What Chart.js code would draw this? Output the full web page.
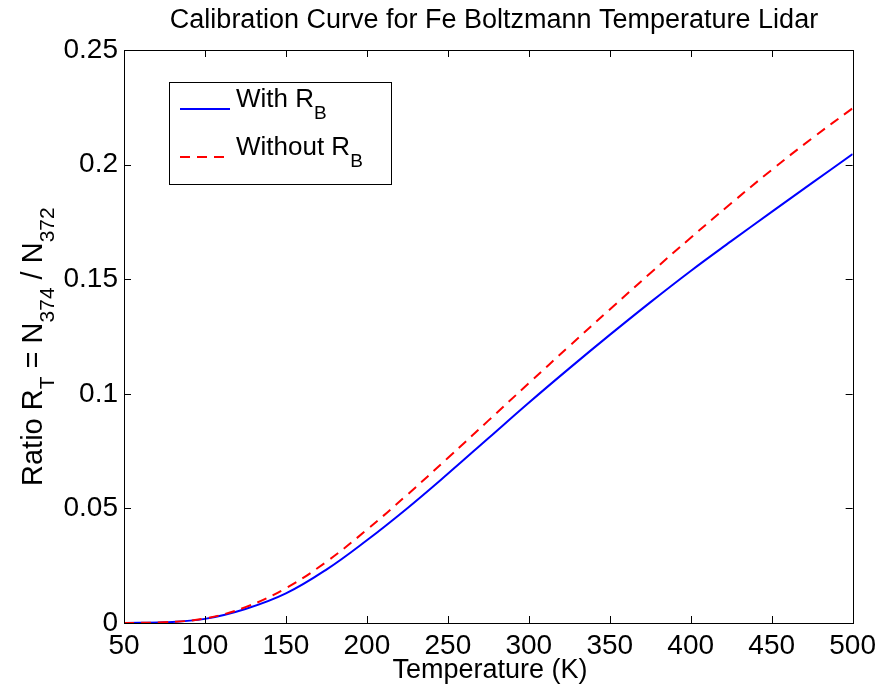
<!DOCTYPE html>
<html>
<head>
<meta charset="utf-8">
<title>Calibration Curve for Fe Boltzmann Temperature Lidar</title>
<script src="https://cdn.jsdelivr.net/npm/chart.js@4.4.1/dist/chart.umd.min.js"></script>
<style>
  html, body { margin: 0; padding: 0; background: #fff; }
  #wrap { width: 882px; height: 686px; }
</style>
</head>
<body>
<div id="wrap"><canvas id="curva" width="882" height="686"></canvas></div>
<script>
// temperatures (K) and ratios
var temps = [50, 75, 100, 125, 150, 175, 200, 225, 250, 275, 300, 325, 350, 375, 400, 425, 450, 475, 500]
var withRB = [0, 0.0003, 0.0018, 0.0061, 0.0129, 0.0233, 0.0361, 0.0501, 0.0651, 0.0806, 0.0961, 0.1111, 0.1257, 0.1399, 0.1536, 0.1666, 0.1794, 0.1920, 0.2046]
var withoutRB = [0, 0.0003, 0.0020, 0.0069, 0.0152, 0.0267, 0.0407, 0.0560, 0.0720, 0.0883, 0.1046, 0.1208, 0.1368, 0.1526, 0.1681, 0.1831, 0.1977, 0.2115, 0.2246]
var xTicks = [50, 100, 150, 200, 250, 300, 350, 400, 450, 500]
var yTicks = [0, 0.05, 0.1, 0.15, 0.2, 0.25]

var FONT = '"Liberation Sans", Arial, Helvetica, sans-serif'

function pares(xs, ys) {
  return xs.map(function (x, i) { return { x: x, y: ys[i] } })
}

// draws a run of [text, isSubscript] pieces starting at x, returns the end x
function textoSub(ctx, partes, x, y, size, subSize) {
  partes.forEach(function (p) {
    if (p[1]) {
      ctx.font = subSize + "px " + FONT
      ctx.fillText(p[0], x, y + 12)
    } else {
      ctx.font = size + "px " + FONT
      ctx.fillText(p[0], x, y)
    }
    x += ctx.measureText(p[0]).width
  })
  return x
}

var marco = {
  id: "marco",
  afterDraw: function (chart) {
    var ctx = chart.ctx
    var a = chart.chartArea
    var sx = chart.scales.x
    var sy = chart.scales.y
    ctx.save()
    ctx.strokeStyle = "#000"
    ctx.lineWidth = 1
    // inward ticks, all four sides (matlab box)
    ctx.beginPath()
    xTicks.forEach(function (t) {
      var px = Math.round(sx.getPixelForValue(t)) + 0.5
      ctx.moveTo(px, a.bottom); ctx.lineTo(px, a.bottom - 7)
      ctx.moveTo(px, a.top); ctx.lineTo(px, a.top + 7)
    })
    yTicks.forEach(function (t) {
      var py = Math.round(sy.getPixelForValue(t)) + 0.5
      ctx.moveTo(a.left, py); ctx.lineTo(a.left + 7, py)
      ctx.moveTo(a.right, py); ctx.lineTo(a.right - 7, py)
    })
    ctx.stroke()
    ctx.strokeRect(Math.round(a.left) + 0.5, Math.round(a.top) + 0.5, Math.round(a.right - a.left), Math.round(a.bottom - a.top))

    // title + axis labels
    ctx.fillStyle = "#000"
    ctx.textBaseline = "alphabetic"
    ctx.textAlign = "center"
    ctx.font = "27px " + FONT
    ctx.fillText("Calibration Curve for Fe Boltzmann Temperature Lidar", 494, 28)
    ctx.fillText("Temperature (K)", 490, 678)

    ctx.textAlign = "left"
    ctx.save()
    ctx.translate(42, 486)
    ctx.rotate(-Math.PI / 2)
    textoSub(ctx, [["Ratio R", false], ["T", true], [" = N", false], ["374", true], [" / N", false], ["372", true]], 0, 0, 29, 21)
    ctx.restore()

    // legend
    ctx.fillStyle = "#fff"
    ctx.fillRect(169.5, 82.5, 222, 102)
    ctx.strokeRect(169.5, 82.5, 222, 102)
    ctx.lineWidth = 2
    ctx.strokeStyle = "#0000ff"
    ctx.beginPath(); ctx.moveTo(180, 109); ctx.lineTo(230, 109); ctx.stroke()
    ctx.strokeStyle = "#ff0000"
    ctx.setLineDash([10, 7])
    ctx.beginPath(); ctx.moveTo(180, 157); ctx.lineTo(230, 157); ctx.stroke()
    ctx.setLineDash([])
    ctx.fillStyle = "#000"
    textoSub(ctx, [["With R", false], ["B", true]], 236, 107, 26, 19)
    textoSub(ctx, [["Without R", false], ["B", true]], 236, 155, 26, 19)
    ctx.restore()
  }
}

function etiqueta(v) {
  return String(+Number(v).toFixed(4))
}

var config = {
  type: "line",
  data: {
    datasets: [
      {
        label: "With RB",
        data: pares(temps, withRB),
        borderColor: "#0000ff",
        borderWidth: 2,
        pointRadius: 0,
        tension: 0.4,
        order: 1
      },
      {
        label: "Without RB",
        data: pares(temps, withoutRB),
        borderColor: "#ff0000",
        borderWidth: 2,
        borderDash: [10, 7],
        pointRadius: 0,
        tension: 0.4,
        order: 0
      }
    ]
  },
  options: {
    responsive: false,
    animation: false,
    layout: { padding: { left: 0, right: 29, top: 50, bottom: 0 } },
    plugins: {
      legend: { display: false },
      title: { display: false },
      tooltip: { enabled: false }
    },
    scales: {
      x: {
        type: "linear",
        min: 50,
        max: 500,
        afterBuildTicks: function (s) { s.ticks = xTicks.map(function (v) { return { value: v } }) },
        ticks: { color: "#000", font: { size: 28, family: FONT }, padding: 6, maxRotation: 0, callback: etiqueta },
        grid: { drawOnChartArea: false, drawTicks: false },
        border: { display: false },
        afterFit: function (s) { s.height = 63 }
      },
      y: {
        min: 0,
        max: 0.25,
        afterBuildTicks: function (s) { s.ticks = yTicks.map(function (v) { return { value: v } }) },
        ticks: { color: "#000", font: { size: 28, family: FONT }, padding: 6, callback: etiqueta },
        grid: { drawOnChartArea: false, drawTicks: false },
        border: { display: false },
        afterFit: function (s) { s.width = 124 }
      }
    }
  },
  plugins: [marco]
}

var curvaChart = new Chart(document.getElementById("curva"), config)
</script>
</body>
</html>
